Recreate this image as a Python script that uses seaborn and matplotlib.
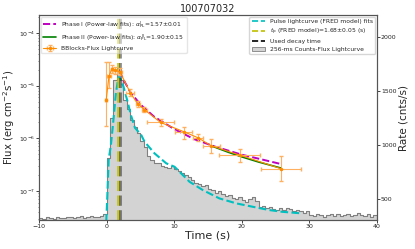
import numpy as np
import pandas as pd
import seaborn as sns
import matplotlib
matplotlib.use('Agg')
import matplotlib.pyplot as plt
from matplotlib.patches import Patch

# BBlocks flux lightcurve (erg cm^-2 s^-1)
bb_time = [-0.05, 0.35, 0.75, 1.3, 1.95, 3.5, 4.6, 5.6, 8.0, 11.4, 13.5, 15.5, 19.7, 25.8]
bb_terr = [0.15, 0.25, 0.15, 0.4, 0.35, 0.6, 0.3, 0.4, 2.0, 1.3, 0.7, 1.3, 3.0, 3.0]
bb_flux = [5.4e-6, 1.5e-5, 2.05e-5, 1.95e-5, 1.85e-5, 7.4e-6, 4.5e-6, 3.5e-6,
           2.0e-6, 1.34e-6, 1.03e-6, 7.2e-7, 4.8e-7, 2.66e-7]
bb_err_lo = [3.7e-6, 6e-6, 3e-6, 2.5e-6, 2.5e-6, 1e-6, 6e-7, 4e-7,
             2.5e-7, 3.5e-7, 1.5e-7, 1.9e-7, 1.24e-7, 1.11e-7]
bb_err_hi = [2.3e-5, 1.3e-5, 4e-6, 3e-6, 3e-6, 1.2e-6, 7e-7, 5e-7,
             3e-7, 2.7e-7, 2e-7, 2.6e-7, 1.5e-7, 1.94e-7]

# power-law fits
pl1_time = [1.9, 2.5, 3.5, 5, 7, 10, 13, 16, 20, 25.6]
pl1_flux = [1.9e-5, 1.3e-5, 7.6e-6, 4.4e-6, 2.6e-6, 1.5e-6, 9.6e-7, 7.0e-7, 4.9e-7, 3.3e-7]
pl2_time = [15.5, 18, 20, 22.5, 25.8]
pl2_flux = [7.2e-7, 5.45e-7, 4.45e-7, 3.55e-7, 2.73e-7]

# FRED fit on the count rate
fred_time = [-0.05, 0.15, 0.3, 0.64, 0.99, 1.38, 1.73, 1.92, 2.51, 3.11, 3.6, 4.2,
             5.13, 5.62, 7.1, 8.83, 10.06, 12.28, 14.25, 16.7, 19.2, 21.6, 24.1, 26.0, 29.0]
fred_rate = [290, 583, 861, 1000, 1216, 1481, 1618, 1639, 1540, 1401, 1278, 1160,
             1093, 1031, 923, 831, 799, 660, 583, 506, 460, 429, 398, 382, 367]

# 256-ms counts lightcurve (shown in 0.5 s bins)
hist_start = -10.0
hist_width = 0.5
hist_rate = [322, 318, 330, 326, 319, 335, 328, 324, 331, 338,
             327, 333, 340, 329, 336, 343, 338, 331, 345, 360,
             880, 1250, 1600, 1710, 1600, 1420, 1330, 1230, 1170, 1110,
             1040, 980, 900, 860, 830, 835, 810, 800, 790, 805,
             780, 760, 745, 720, 700, 680, 650, 640, 620, 630,
             590, 580, 560, 575, 545, 530, 540, 510, 500, 520,
             490, 470, 500, 520, 480, 430, 440, 420, 430, 410,
             400, 415, 400, 420, 405, 390, 400, 385, 375, 390,
             355, 340, 360, 348, 335, 352, 365, 345, 358, 340,
             350, 362, 347, 355, 370, 350, 342, 358, 336, 352]

t_peak = 1.68
t_decay = 1.92

sns.set_style('ticks')
plt.rcParams['font.family'] = ['DejaVu Sans']

fig = plt.figure(figsize=(4.15, 2.49), dpi=100)
ax = fig.add_axes([0.094, 0.116, 0.814, 0.824])
ax2 = ax.twinx()

# counts histogram + FRED on the right axis
centers = hist_start + hist_width * (np.arange(len(hist_rate)) + 0.5)
hist_df = pd.DataFrame({'t': centers, 'rate': hist_rate})
sns.histplot(data=hist_df, x='t', weights='rate', binwidth=hist_width,
             binrange=(hist_start, hist_start + hist_width * len(hist_rate)),
             element='step', fill=True, color='lightgray', edgecolor='gray',
             alpha=1, linewidth=0.8, ax=ax2)
fred = pd.DataFrame({'t': fred_time, 'r': fred_rate})
sns.lineplot(data=fred, x='t', y='r', color='c', linestyle='--', linewidth=1.5,
             sort=False, ax=ax2)
ax2.axvline(t_peak, color='y', linestyle='--', linewidth=2.0, alpha=0.8)
ax2.axvline(t_decay, color='k', linestyle='--', linewidth=2.0, alpha=0.45)

# flux data on the left axis
pl1 = pd.DataFrame({'t': pl1_time, 'f': pl1_flux})
pl2 = pd.DataFrame({'t': pl2_time, 'f': pl2_flux})
sns.lineplot(data=pl1, x='t', y='f', color='m', linestyle='--', linewidth=1.4,
             sort=False, ax=ax,
             label=r'Phase I (Power-law fits): $\alpha^{\rm I}_{\rm PL}$=1.57$\pm$0.01')
sns.lineplot(data=pl2, x='t', y='f', color='g', linewidth=1.2, sort=False, ax=ax,
             label=r'Phase II (Power-law fits): $\alpha^{\rm II}_{\rm PL}$=1.90$\pm$0.15')
eb = ax.errorbar(bb_time, bb_flux, xerr=bb_terr, yerr=[bb_err_lo, bb_err_hi],
                 fmt='.-', color='darkorange', markersize=3, linewidth=0.8,
                 elinewidth=0.8, capsize=1.5, ecolor='#ffb060',
                 label='BBlocks-Flux Lightcurve')

ax.set_yscale('log')
ax.set_xlim(-10, 40)
ax.set_ylim(2.8e-8, 2.2e-4)
ax2.set_ylim(305, 2205)
ax.set_zorder(ax2.get_zorder() + 1)
ax.patch.set_visible(False)

ax.set_xlabel('Time (s)', fontsize=8, labelpad=1)
ax.set_ylabel(r'Flux (erg cm$^{-2}$s$^{-1}$)', fontsize=7.3, labelpad=1)
ax2.set_ylabel('Rate (cnts/s)', fontsize=7.5, labelpad=1)
ax.set_title('100707032', fontsize=7, pad=2)

ax.tick_params(axis='both', which='major', labelsize=4.5, length=2, width=0.6, pad=1)
ax.tick_params(axis='y', which='minor', length=1, width=0.4)
ax2.tick_params(axis='y', labelsize=4.5, length=2, width=0.6, pad=1)
ax2.set_yticks([500, 1000, 1500, 2000])
ax.set_xticks([-10, 0, 10, 20, 30, 40])
for a in (ax, ax2):
    for s in a.spines.values():
        s.set_color('#555555')
        s.set_linewidth(0.8)

ax.legend(loc='upper left', fontsize=4.3, framealpha=0.5, handlelength=2.2,
          borderpad=0.4, labelspacing=0.4, borderaxespad=0.3)

h_fred = plt.Line2D([], [], color='c', linestyle='--', linewidth=1.2)
h_tp = plt.Line2D([], [], color='y', linestyle='--', linewidth=1.2)
h_dec = plt.Line2D([], [], color='k', linestyle='--', linewidth=1.2)
h_hist = Patch(facecolor='lightgray', edgecolor='gray', linewidth=0.6)
ax2.legend([h_fred, h_tp, h_dec, h_hist],
           ['Pulse lightcurve (FRED model) fits',
            r'$t_{\rm p}$ (FRED model)=1.68$\pm$0.05 (s)',
            'Used decay time',
            '256-ms Counts-Flux Lightcurve'],
           loc='upper right', fontsize=4.3, framealpha=0.8, handlelength=2.2,
           borderpad=0.4, labelspacing=0.4, borderaxespad=0.3)

fig.savefig('out.png', dpi=100)
